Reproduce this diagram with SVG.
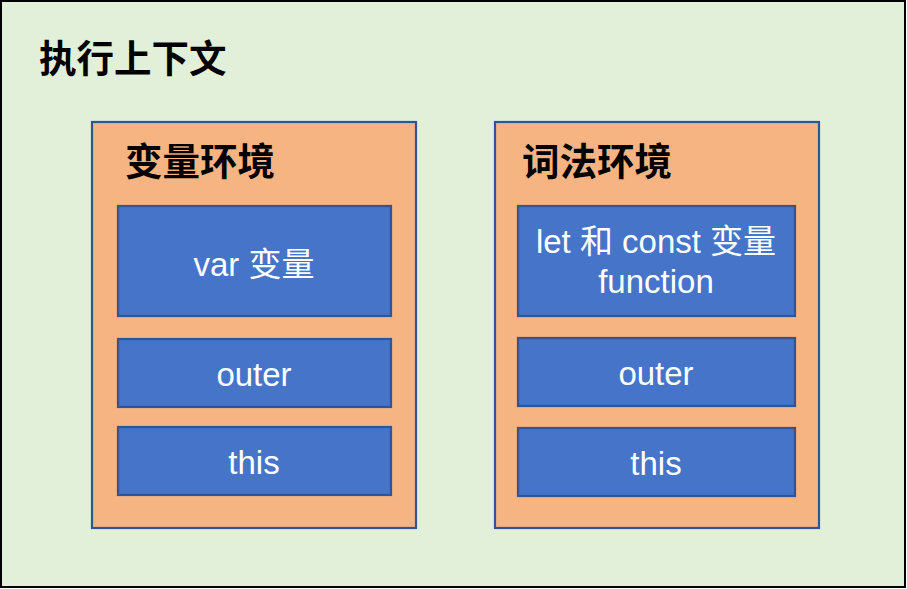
<svg xmlns="http://www.w3.org/2000/svg" width="907" height="589" viewBox="0 0 907 589">
<style>
.env{fill:#F5B482;stroke:#2F5597;stroke-width:2.2}
.item{fill:#4674C9;stroke:#2F5597;stroke-width:2.2}
.title{font-family:"Liberation Sans","Noto Sans CJK SC",sans-serif;font-weight:bold;font-size:37.5px;fill:#000}
.lbl{font-family:"Liberation Sans","Noto Sans CJK SC",sans-serif;font-size:33px;fill:#fff;text-anchor:middle}
</style>
<g id="context">
<rect x="1" y="1" width="904" height="586" fill="#E3F0D9" stroke="#000" stroke-width="2"/>
<text class="title" x="39" y="72">执行上下文</text>
</g>
<g id="variable-env">
<rect class="env" x="92" y="122" width="324" height="406"/>
<text class="title" x="125" y="175">变量环境</text>
</g>
<g id="var-vars">
<rect class="item" x="118" y="206" width="273" height="110"/>
<text class="lbl" x="254" y="276">var 变量</text>
</g>
<g id="outer-left">
<rect class="item" x="118" y="339" width="273" height="68"/>
<text class="lbl" x="254" y="386">outer</text>
</g>
<g id="this-left">
<rect class="item" x="118" y="427" width="273" height="68"/>
<text class="lbl" x="254" y="474">this</text>
</g>
<g id="lexical-env">
<rect class="env" x="495" y="122" width="324" height="406"/>
<text class="title" x="522" y="175">词法环境</text>
</g>
<g id="let-const">
<rect class="item" x="518" y="206" width="277" height="110"/>
<text class="lbl" x="656" y="253">let 和 const 变量</text>
<text class="lbl" x="656" y="293">function</text>
</g>
<g id="outer-right">
<rect class="item" x="518" y="338" width="277" height="68"/>
<text class="lbl" x="656" y="385">outer</text>
</g>
<g id="this-right">
<rect class="item" x="518" y="428" width="277" height="68"/>
<text class="lbl" x="656" y="475">this</text>
</g>
<g id="connectors"/>
</svg>
